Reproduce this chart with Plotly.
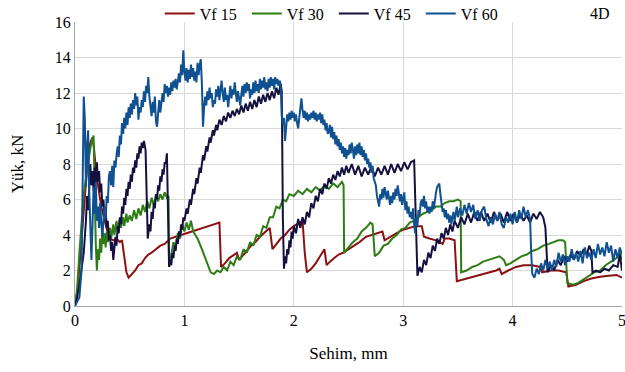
import plotly.graph_objects as go

# ---------------- data ----------------
series_names = ["Vf 15", "Vf 30", "Vf 45", "Vf 60"]
series_colors = ["#8B1010", "#2E7D14", "#14103F", "#0F5191"]

vf15_x = [0, 0.02, 0.04, 0.06, 0.08, 0.10, 0.12, 0.14, 0.16, 0.17,
          0.18, 0.19, 0.20, 0.22, 0.24, 0.26, 0.28, 0.30, 0.32, 0.35,
          0.38, 0.41, 0.43, 0.45, 0.47, 0.49, 0.52, 0.55, 0.58, 0.61,
          0.64, 0.67, 0.70, 0.74, 0.78, 0.82, 0.87, 0.92, 0.97, 1.02,
          1.07, 1.12, 1.17, 1.22, 1.27, 1.32, 1.335, 1.37, 1.41, 1.45,
          1.48, 1.50, 1.53, 1.57, 1.61, 1.65, 1.69, 1.73, 1.78, 1.805,
          1.84, 1.88, 1.92, 1.96, 2.00, 2.05, 2.08, 2.10, 2.12, 2.16,
          2.20, 2.24, 2.28, 2.30, 2.33, 2.37, 2.41, 2.45, 2.50, 2.55,
          2.60, 2.66, 2.71, 2.76, 2.81, 2.83, 2.88, 2.94, 3.00, 3.06,
          3.11, 3.17, 3.19, 3.24, 3.30, 3.36, 3.38, 3.42, 3.47, 3.49,
          3.55, 3.62, 3.70, 3.78, 3.85, 3.88, 3.90, 3.96, 4.03, 4.10,
          4.18, 4.25, 4.27, 4.35, 4.42, 4.49, 4.51, 4.58, 4.65, 4.72,
          4.80, 4.88, 4.95, 5.0]
vf15_y = [0, 0.8, 2.2, 3.8, 5.6, 7.2, 8.5, 9.2, 9.5, 9.1,
          8.6, 7.8, 7.2, 6.3, 5.6, 5.1, 4.6, 4.1, 3.8, 3.7,
          3.8, 3.6, 3.7, 2.8, 1.9, 1.6, 1.8, 2.0, 2.3, 2.4,
          2.7, 2.9, 3.0, 3.2, 3.4, 3.5, 3.8, 3.9, 4.0, 4.1,
          4.2, 4.3, 4.4, 4.5, 4.6, 4.7, 2.2, 2.4, 2.7, 2.9,
          3.0, 2.6, 2.8, 3.1, 3.4, 3.6, 3.9, 4.1, 4.4, 3.2,
          3.5, 3.8, 4.0, 4.3, 4.5, 4.7, 4.8, 3.0, 1.9, 2.1,
          2.4, 2.8, 3.2, 2.3, 2.5, 2.7, 2.9, 3.0, 3.2, 3.4,
          3.6, 3.9, 4.0, 4.1, 4.2, 3.7, 3.9, 4.1, 4.3, 4.4,
          4.5, 4.5, 3.9, 3.8, 3.7, 3.5, 3.8, 3.8, 3.7, 1.4,
          1.5, 1.6, 1.75, 1.9, 2.0, 2.1, 1.8, 2.0, 2.2, 2.3,
          2.3, 2.2, 1.9, 2.0, 2.0, 1.9, 1.1, 1.2, 1.4, 1.55,
          1.65, 1.7, 1.75, 1.6]

vf30_x = [0, 0.02, 0.04, 0.06, 0.08, 0.10, 0.12, 0.14, 0.16, 0.17,
          0.175, 0.18, 0.19, 0.20, 0.21, 0.22, 0.23, 0.24, 0.25, 0.26,
          0.27, 0.28, 0.29, 0.30, 0.32, 0.33, 0.35, 0.36, 0.38, 0.39,
          0.41, 0.42, 0.44, 0.45, 0.47, 0.48, 0.50, 0.52, 0.54, 0.56,
          0.58, 0.60, 0.62, 0.64, 0.66, 0.68, 0.70, 0.72, 0.74, 0.76,
          0.78, 0.80, 0.82, 0.84, 0.855, 0.86, 0.88, 0.90, 0.92, 0.94,
          0.96, 0.98, 1.00, 1.02, 1.04, 1.06, 1.08, 1.12, 1.16, 1.20,
          1.24, 1.27, 1.30, 1.33, 1.36, 1.39, 1.42, 1.45, 1.48, 1.51,
          1.54, 1.57, 1.60, 1.63, 1.66, 1.69, 1.72, 1.75, 1.78, 1.81,
          1.84, 1.87, 1.90, 1.93, 1.96, 2.00, 2.04, 2.08, 2.12, 2.16,
          2.20, 2.24, 2.28, 2.32, 2.36, 2.40, 2.44, 2.455, 2.46, 2.50,
          2.54, 2.58, 2.62, 2.66, 2.70, 2.72, 2.74, 2.78, 2.82, 2.86,
          2.90, 2.94, 2.98, 3.02, 3.06, 3.10, 3.14, 3.18, 3.22, 3.26,
          3.30, 3.34, 3.38, 3.42, 3.46, 3.50, 3.525, 3.53, 3.58, 3.63,
          3.68, 3.73, 3.78, 3.83, 3.88, 3.92, 3.94, 3.98, 4.03, 4.08,
          4.13, 4.18, 4.23, 4.28, 4.33, 4.38, 4.42, 4.46, 4.48, 4.50,
          4.55, 4.60, 4.65, 4.70, 4.75, 4.80, 4.85, 4.90, 4.95, 4.98,
          5.0]
vf30_y = [0, 1.0, 3.0, 4.6, 6.3, 7.2, 8.2, 8.9, 9.4, 9.6,
          8.0, 5.5, 3.5, 2.0, 3.2, 2.6, 3.8, 3.0, 4.3, 3.5,
          4.1, 3.3, 4.2, 3.6, 4.4, 3.8, 4.6, 4.0, 4.8, 4.2,
          4.9, 4.4, 5.0, 4.5, 5.2, 4.7, 5.1, 4.8, 5.4, 4.9,
          5.5, 5.1, 5.7, 5.3, 5.9, 5.5, 6.1, 5.7, 6.2, 5.9,
          6.3, 6.0, 6.4, 6.1, 6.2, 2.2, 2.9, 3.6, 3.3, 4.1,
          3.8, 4.6, 4.2, 4.7, 4.3, 4.8, 4.2, 3.8, 3.2, 2.6,
          1.9, 1.8, 2.0, 1.9, 2.2, 2.0, 2.5, 2.3, 2.8, 2.6,
          3.2, 3.0, 3.6, 3.4, 4.0, 3.9, 4.5, 4.4, 5.0, 5.0,
          5.6, 5.5, 6.0, 5.9, 6.3, 6.2, 6.5, 6.3, 6.6, 6.4,
          6.7, 6.5, 6.8, 6.6, 6.9, 6.7, 7.0, 6.8, 3.0, 3.3,
          3.6, 3.8, 4.2, 4.4, 4.7, 4.6, 2.8, 3.0, 3.4, 3.5,
          3.8, 4.0, 4.3, 4.4, 4.7, 4.8, 5.0, 5.2, 5.3, 5.4,
          5.6, 5.6, 5.8, 5.9, 5.9, 6.0, 5.9, 1.9, 2.0, 2.2,
          2.3, 2.5, 2.6, 2.7, 2.8, 2.6, 2.3, 2.4, 2.6, 2.8,
          2.9, 3.1, 3.2, 3.4, 3.5, 3.6, 3.7, 3.7, 3.6, 1.3,
          1.2, 1.3, 1.5, 1.7, 1.9, 2.0, 2.3, 2.5, 2.7, 3.0,
          2.6]

vf45_x = [0, 0.02, 0.04, 0.06, 0.08, 0.10, 0.11, 0.12, 0.13, 0.14,
          0.15, 0.16, 0.17, 0.18, 0.19, 0.20, 0.21, 0.22, 0.23, 0.24,
          0.25, 0.26, 0.27, 0.28, 0.29, 0.30, 0.31, 0.32, 0.33, 0.34,
          0.35, 0.36, 0.37, 0.38, 0.39, 0.40, 0.41, 0.42, 0.43, 0.44,
          0.45, 0.46, 0.47, 0.48, 0.49, 0.50, 0.51, 0.52, 0.53, 0.54,
          0.55, 0.56, 0.57, 0.58, 0.59, 0.60, 0.61, 0.62, 0.63, 0.645,
          0.655, 0.665, 0.68, 0.69, 0.70, 0.71, 0.72, 0.73, 0.74, 0.75,
          0.76, 0.77, 0.78, 0.79, 0.80, 0.81, 0.82, 0.83, 0.84, 0.85,
          0.86, 0.87, 0.88, 0.89, 0.90, 0.91, 0.92, 0.93, 0.94, 0.95,
          0.96, 0.97, 0.98, 0.99, 1.00, 1.02, 1.03, 1.05, 1.06, 1.08,
          1.09, 1.11, 1.12, 1.14, 1.15, 1.17, 1.18, 1.20, 1.21, 1.23,
          1.24, 1.26, 1.27, 1.29, 1.30, 1.32, 1.34, 1.36, 1.38, 1.40,
          1.42, 1.44, 1.46, 1.48, 1.50, 1.52, 1.54, 1.56, 1.58, 1.60,
          1.62, 1.64, 1.66, 1.68, 1.70, 1.72, 1.74, 1.76, 1.78, 1.80,
          1.82, 1.84, 1.86, 1.88, 1.89, 1.90, 1.91, 1.92, 1.93, 1.94,
          1.95, 1.96, 1.97, 1.98, 1.99, 2.00, 2.02, 2.04, 2.06, 2.08,
          2.10, 2.12, 2.14, 2.16, 2.18, 2.20, 2.22, 2.24, 2.26, 2.28,
          2.30, 2.32, 2.34, 2.36, 2.38, 2.40, 2.42, 2.44, 2.46, 2.48,
          2.50, 2.53, 2.56, 2.59, 2.62, 2.65, 2.68, 2.71, 2.74, 2.77,
          2.80, 2.83, 2.86, 2.89, 2.92, 2.95, 2.98, 3.01, 3.04, 3.07,
          3.10, 3.115, 3.13, 3.15, 3.17, 3.19, 3.21, 3.23, 3.25, 3.27,
          3.29, 3.31, 3.33, 3.35, 3.37, 3.39, 3.41, 3.43, 3.45, 3.47,
          3.50, 3.53, 3.56, 3.59, 3.62, 3.65, 3.68, 3.71, 3.74, 3.77,
          3.80, 3.83, 3.86, 3.89, 3.92, 3.95, 3.98, 4.01, 4.04, 4.07,
          4.10, 4.13, 4.16, 4.19, 4.22, 4.25, 4.28, 4.30, 4.32, 4.35,
          4.38, 4.41, 4.44, 4.47, 4.50, 4.53, 4.56, 4.59, 4.62, 4.65,
          4.68, 4.70, 4.72, 4.73, 4.76, 4.80, 4.84, 4.88, 4.92, 4.96,
          4.98, 5.0]
vf45_y = [0, 0.5, 1.2, 2.0, 3.0, 4.8, 6.2, 5.4, 7.2, 8.0,
          6.8, 7.6, 6.5, 7.8, 6.9, 8.1, 7.0, 7.6, 6.4, 6.9,
          5.6, 6.0, 5.0, 5.4, 4.4, 4.8, 3.7, 4.0, 3.1, 3.6,
          2.6, 3.4, 3.9, 3.4, 4.5, 4.1, 5.0, 4.6, 5.6, 5.2,
          6.1, 5.7, 6.6, 6.2, 7.0, 6.6, 7.4, 7.0, 7.8, 7.5,
          8.2, 7.8, 8.6, 8.3, 9.0, 8.6, 9.2, 8.9, 9.3, 8.8,
          6.0, 3.8, 4.6, 4.2, 5.3, 4.9, 5.8, 5.5, 6.3, 6.0,
          6.8, 6.5, 7.3, 7.0, 7.7, 7.4, 8.1, 8.0, 8.6, 5.0,
          2.2, 2.6, 2.3, 3.0, 2.7, 3.4, 3.1, 3.8, 3.5, 4.2,
          3.9, 4.6, 4.3, 5.0, 4.8, 5.5, 5.2, 6.0, 5.7, 6.6,
          6.3, 7.2, 6.9, 7.8, 7.5, 8.5, 8.2, 9.0, 8.7, 9.5,
          9.2, 9.9, 9.6, 10.2, 9.9, 10.5, 10.2, 10.7, 10.4, 10.9,
          10.6, 11.0, 10.7, 11.1, 10.8, 11.3, 10.9, 11.4, 11.0, 11.5,
          11.1, 11.6, 11.2, 11.8, 11.4, 11.9, 11.5, 12.0, 11.6, 12.1,
          11.7, 12.3, 11.9, 12.5, 12.1, 5.0, 2.1, 2.8, 2.4, 3.2,
          2.9, 3.7, 3.3, 4.2, 3.8, 4.5, 4.1, 4.9, 4.4, 5.0,
          4.6, 5.3, 5.0, 5.8, 5.5, 6.2, 5.9, 6.6, 6.3, 6.9,
          6.6, 7.2, 6.9, 7.4, 7.1, 7.6, 7.3, 7.8, 7.4, 7.9,
          7.5, 8.0, 7.4, 7.9, 7.3, 7.8, 7.4, 7.9, 7.3, 7.8,
          7.4, 7.9, 7.4, 8.0, 7.5, 8.0, 7.6, 8.1, 7.7, 8.1,
          8.2, 5.0, 1.7, 2.2, 1.9, 2.6, 2.3, 3.0, 2.7, 3.4,
          3.1, 3.8, 3.5, 4.1, 3.8, 4.4, 4.0, 4.6, 4.2, 4.8,
          4.4, 5.0, 4.6, 5.2, 4.7, 5.3, 4.8, 5.3, 4.8, 5.2,
          4.7, 5.3, 4.8, 5.2, 4.7, 5.3, 4.8, 5.2, 4.7, 5.2,
          4.8, 5.1, 4.7, 5.2, 4.9, 5.3, 5.0, 4.4, 1.9, 2.3,
          2.0, 2.6, 2.3, 2.8, 2.5, 2.9, 2.6, 3.1, 2.8, 3.2,
          2.9, 3.4, 3.1, 1.9, 2.0, 1.9, 2.1, 2.0, 2.3, 2.2,
          2.9, 2.0]

vf60_x = [0, 0.02, 0.04, 0.06, 0.07, 0.08, 0.09, 0.10, 0.11, 0.12,
          0.13, 0.14, 0.15, 0.16, 0.17, 0.18, 0.19, 0.20, 0.21, 0.22,
          0.23, 0.24, 0.25, 0.26, 0.27, 0.28, 0.29, 0.30, 0.31, 0.32,
          0.33, 0.34, 0.35, 0.36, 0.37, 0.38, 0.39, 0.40, 0.41, 0.42,
          0.43, 0.44, 0.45, 0.46, 0.47, 0.48, 0.49, 0.50, 0.51, 0.52,
          0.53, 0.54, 0.55, 0.56, 0.57, 0.58, 0.59, 0.60, 0.61, 0.62,
          0.63, 0.64, 0.65, 0.66, 0.67, 0.68, 0.69, 0.70, 0.71, 0.72,
          0.73, 0.74, 0.75, 0.76, 0.77, 0.78, 0.79, 0.80, 0.81, 0.82,
          0.83, 0.84, 0.85, 0.86, 0.87, 0.88, 0.89, 0.90, 0.91, 0.92,
          0.93, 0.94, 0.95, 0.96, 0.97, 0.98, 0.99, 1.00, 1.01, 1.02,
          1.03, 1.04, 1.05, 1.06, 1.07, 1.08, 1.09, 1.10, 1.11, 1.12,
          1.13, 1.14, 1.15, 1.16, 1.17, 1.18, 1.19, 1.20, 1.21, 1.22,
          1.23, 1.24, 1.25, 1.26, 1.27, 1.28, 1.29, 1.30, 1.31, 1.32,
          1.33, 1.34, 1.35, 1.36, 1.37, 1.38, 1.39, 1.40, 1.41, 1.42,
          1.43, 1.44, 1.45, 1.46, 1.47, 1.48, 1.49, 1.50, 1.51, 1.52,
          1.53, 1.54, 1.55, 1.56, 1.57, 1.58, 1.59, 1.60, 1.61, 1.62,
          1.63, 1.64, 1.65, 1.66, 1.67, 1.68, 1.69, 1.70, 1.71, 1.72,
          1.73, 1.74, 1.75, 1.76, 1.77, 1.78, 1.79, 1.80, 1.81, 1.82,
          1.83, 1.84, 1.85, 1.86, 1.87, 1.88, 1.89, 1.90, 1.91, 1.92,
          1.93, 1.94, 1.95, 1.96, 1.97, 1.98, 1.99, 2.00, 2.01, 2.02,
          2.03, 2.04, 2.05, 2.06, 2.07, 2.08, 2.09, 2.10, 2.11, 2.12,
          2.13, 2.14, 2.15, 2.16, 2.17, 2.18, 2.19, 2.20, 2.21, 2.22,
          2.23, 2.24, 2.25, 2.26, 2.27, 2.28, 2.29, 2.30, 2.31, 2.32,
          2.33, 2.34, 2.35, 2.36, 2.37, 2.38, 2.39, 2.40, 2.41, 2.42,
          2.43, 2.44, 2.45, 2.46, 2.47, 2.48, 2.49, 2.50, 2.51, 2.52,
          2.53, 2.54, 2.55, 2.56, 2.57, 2.58, 2.59, 2.60, 2.61, 2.62,
          2.63, 2.64, 2.65, 2.66, 2.67, 2.68, 2.69, 2.70, 2.71, 2.72,
          2.73, 2.74, 2.75, 2.76, 2.77, 2.78, 2.79, 2.80, 2.81, 2.82,
          2.83, 2.84, 2.85, 2.86, 2.87, 2.88, 2.89, 2.90, 2.91, 2.92,
          2.93, 2.94, 2.95, 2.96, 2.97, 2.98, 2.99, 3.00, 3.01, 3.02,
          3.03, 3.04, 3.05, 3.06, 3.07, 3.08, 3.09, 3.10, 3.11, 3.12,
          3.13, 3.14, 3.15, 3.16, 3.17, 3.18, 3.19, 3.20, 3.21, 3.22,
          3.23, 3.24, 3.25, 3.26, 3.27, 3.28, 3.29, 3.30, 3.31, 3.32,
          3.33, 3.34, 3.35, 3.36, 3.37, 3.38, 3.39, 3.40, 3.41, 3.42,
          3.43, 3.44, 3.45, 3.46, 3.47, 3.48, 3.49, 3.50, 3.52, 3.54,
          3.56, 3.58, 3.60, 3.62, 3.64, 3.66, 3.68, 3.70, 3.72, 3.74,
          3.76, 3.78, 3.80, 3.82, 3.84, 3.86, 3.88, 3.90, 3.92, 3.94,
          3.96, 3.98, 4.00, 4.02, 4.04, 4.06, 4.08, 4.10, 4.12, 4.14,
          4.16, 4.17, 4.18, 4.20, 4.22, 4.24, 4.26, 4.28, 4.30, 4.32,
          4.34, 4.36, 4.38, 4.40, 4.42, 4.44, 4.46, 4.48, 4.50, 4.52,
          4.54, 4.56, 4.58, 4.60, 4.62, 4.64, 4.66, 4.68, 4.70, 4.72,
          4.74, 4.76, 4.78, 4.80, 4.82, 4.84, 4.86, 4.88, 4.90, 4.92,
          4.94, 4.96, 4.98, 5.0]
vf60_y = [0, 0.3, 0.5, 2.0, 6.0, 11.8, 10.5, 6.7, 9.0, 9.9,
          6.5, 3.9, 2.6, 4.5, 6.7, 5.2, 7.0, 4.8, 5.6, 4.4,
          5.8, 4.7, 3.9, 4.8, 5.6, 4.9, 6.2, 5.8, 7.3, 7.6,
          6.8, 7.9, 6.7, 8.2, 7.8, 8.5, 9.0, 8.4, 9.6, 9.1,
          10.3, 9.7, 10.6, 10.0, 10.9, 10.2, 11.2, 10.6, 11.4, 10.8,
          11.6, 11.1, 12.0, 11.3, 11.8, 10.5, 11.2, 10.9, 11.6, 11.2,
          12.1, 11.5, 12.4, 12.0, 12.9, 11.8, 11.1, 10.7, 11.5, 10.9,
          11.8, 10.4, 10.1, 11.0, 11.6, 10.9, 11.4, 12.0, 11.5, 12.5,
          12.0, 12.4, 11.8, 12.3, 11.9, 12.6, 12.1, 12.7, 12.3, 12.8,
          12.2, 12.7, 13.1, 12.6, 13.6, 13.0, 14.4, 13.2, 12.7, 13.4,
          12.6, 13.3, 12.8, 13.6, 12.9, 13.4, 12.7, 13.2, 12.6, 13.7,
          13.0, 13.6, 13.9, 12.5, 10.1, 11.2, 11.8, 11.3, 12.1, 11.6,
          12.3, 11.7, 12.0, 11.2, 11.6, 11.4, 12.2, 11.8, 12.4, 11.6,
          12.2, 12.7, 12.0, 11.5, 12.3, 11.6, 11.9, 11.2, 11.8, 12.4,
          11.7, 12.2, 11.9, 12.6, 12.0, 11.5, 12.1, 11.8, 11.3, 11.9,
          12.4, 11.8, 12.5, 12.0, 12.6, 12.1, 12.5, 11.7, 12.2, 11.9,
          12.6, 12.0, 12.7, 12.1, 12.5, 12.0, 12.8, 12.2, 12.7, 12.3,
          12.9, 12.2, 12.6, 12.1, 12.8, 12.3, 12.9, 12.4, 12.8, 12.2,
          12.9, 12.5, 12.8, 12.4, 12.7, 12.5, 10.7, 10.2, 10.6, 9.3,
          10.4, 10.8, 10.4, 10.9, 10.5, 11.0, 10.6, 10.9, 10.4, 10.8,
          10.3, 10.0, 10.6, 11.1, 11.7, 11.0, 10.6, 11.0, 10.5, 10.9,
          10.4, 10.8, 10.5, 10.9, 10.6, 11.0, 10.5, 10.9, 10.4, 10.8,
          10.5, 10.9, 10.3, 10.8, 10.2, 10.5, 9.9, 10.3, 9.7, 9.8,
          10.2, 9.5, 10.1, 9.4, 9.8, 9.1, 9.6, 9.0, 9.4, 8.8,
          9.2, 8.6, 9.0, 8.4, 8.9, 8.3, 8.8, 8.5, 9.1, 8.6,
          9.2, 8.8, 8.3, 9.0, 8.5, 9.1, 8.6, 9.2, 8.5, 9.0,
          8.4, 8.8, 8.2, 8.6, 8.0, 8.3, 7.8, 8.1, 7.5, 7.9,
          7.2, 7.0, 6.8, 6.2, 5.8, 5.6, 6.3, 6.0, 6.6, 6.1,
          6.7, 6.4, 6.0, 6.5, 6.1, 5.7, 6.2, 5.8, 6.4, 6.0,
          6.6, 6.2, 6.8, 6.3, 5.9, 6.3, 5.7, 6.1, 6.4, 5.4,
          5.9, 5.2, 5.6, 5.0, 5.3, 4.9, 5.5, 4.6, 4.1, 5.0,
          4.5, 5.4, 5.1, 5.8, 6.0, 5.6, 6.2, 5.5, 5.9, 5.3,
          5.6, 5.2, 5.6, 5.3, 5.9, 5.5, 6.1, 6.4, 6.7, 6.8,
          6.9, 6.3, 5.7, 5.3, 5.5, 5.0, 5.4, 4.9, 5.2, 4.7,
          5.1, 4.6, 5.0, 5.3, 4.8, 5.2, 5.6, 5.0, 5.5, 5.1,
          5.7, 5.2, 5.8, 5.3, 5.7, 4.9, 5.4, 4.8, 5.4, 5.6,
          4.9, 4.5, 5.0, 4.6, 5.2, 4.8, 5.3, 4.6, 4.4, 5.0,
          4.7, 5.2, 4.6, 5.3, 4.7, 5.4, 4.9, 5.6, 5.0, 5.4,
          4.9, 3.0, 1.8, 1.6, 2.1, 1.8, 2.4, 2.0, 2.6, 2.1,
          2.5, 2.0, 2.6, 2.2, 3.0, 2.5, 2.9, 2.3, 2.8, 2.5,
          3.2, 2.6, 3.0, 2.5, 3.1, 2.4, 3.3, 2.7, 3.0, 2.6,
          3.2, 2.7, 3.5, 2.9, 3.3, 2.8, 3.6, 3.0, 3.4, 2.5,
          3.2, 2.7, 3.3, 2.9]

x_ticks = [0, 1, 2, 3, 4, 5]
y_ticks = [0, 2, 4, 6, 8, 10, 12, 14, 16]
x_title = "Sehim, mm"
y_title = "Yük, kN"
corner_label = "4D"

# ---------------- figure ----------------
FONT = "Liberation Serif"
xs = [vf15_x, vf30_x, vf45_x, vf60_x]
ys = [vf15_y, vf30_y, vf45_y, vf60_y]

fig = go.Figure()
for name, color, x, y in zip(series_names, series_colors, xs, ys):
    fig.add_trace(go.Scatter(x=x, y=y, mode="lines", name=name,
                             line=dict(color=color, width=2)))

fig.update_layout(
    width=625, height=372,
    margin=dict(l=75, r=3, t=22, b=66, autoexpand=False),
    paper_bgcolor="white", plot_bgcolor="white",
    font=dict(family=FONT, size=16, color="black"),
    showlegend=True,
    legend=dict(orientation="h", x=0.155, xanchor="left", y=1.03, yanchor="middle",
                bgcolor="rgba(0,0,0,0)", font=dict(family=FONT, size=16),
                entrywidth=42, entrywidthmode="pixels",
                itemwidth=30, tracegroupgap=0, borderwidth=0),
    annotations=[dict(text=corner_label, x=0.96, y=1.03, xref="paper", yref="paper",
                      showarrow=False, xanchor="center", yanchor="middle",
                      font=dict(family=FONT, size=16))],
)
fig.update_xaxes(range=[0, 5], tickvals=x_ticks, showgrid=True, gridcolor="#d9d9d9",
                 gridwidth=1, zeroline=False, showline=True, linecolor="#a6a6a6",
                 linewidth=1, ticks="", tickfont=dict(family=FONT, size=16),
                 automargin=False, ticklabeloverflow="allow",
                 title=dict(text=x_title, font=dict(family=FONT, size=17), standoff=18))
fig.update_yaxes(range=[0, 16], tickvals=y_ticks, showgrid=True, gridcolor="#d9d9d9",
                 gridwidth=1, zeroline=False, showline=True, linecolor="#a6a6a6",
                 linewidth=1, ticks="", tickfont=dict(family=FONT, size=16),
                 automargin=False, ticklabeloverflow="allow",
                 title=dict(text=y_title, font=dict(family=FONT, size=17), standoff=26))

fig.write_html("out.html", config={"displayModeBar": False},
               post_script="document.body.style.margin='0px';document.body.style.overflow='hidden';")
